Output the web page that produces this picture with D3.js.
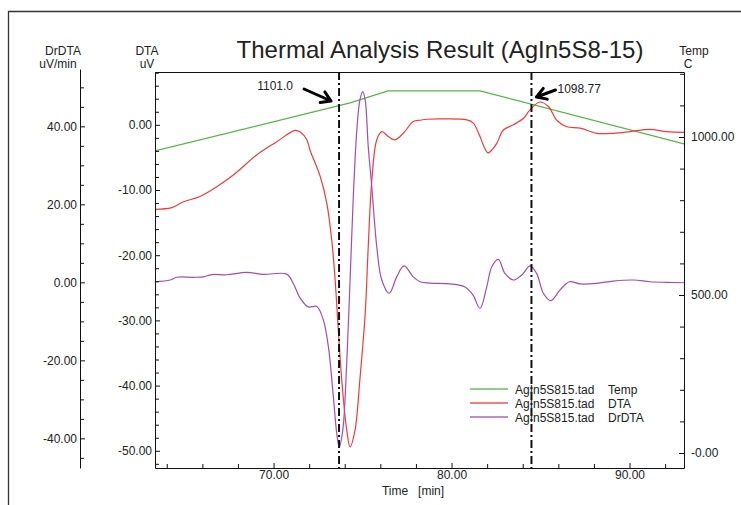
<!DOCTYPE html>
<html>
<head>
<meta charset="utf-8">
<title>Thermal Analysis Result</title>
<script src="https://cdn.jsdelivr.net/npm/d3@7"></script>
<style>
  body { margin: 0; background: #fff; }
  svg text { font-family: "Liberation Sans", Arial, sans-serif; fill: #222; }
</style>
</head>
<body>
<div id="chart"></div>
<script>
// ---- data ----

// time axis [min]
const timeTicks = [70, 80, 90];
const timeTickLabels = ["70.00", "80.00", "90.00"];

// DTA axis [uV]
const dtaTicks = [-50, -40, -30, -20, -10, 0];
const dtaTickLabels = ["-50.00", "-40.00", "-30.00", "-20.00", "-10.00", "0.00"];

// DrDTA axis [uV/min]
const drTicks = [-40, -20, 0, 20, 40];
const drTickLabels = ["-40.00", "-20.00", "0.00", "20.00", "40.00"];

// Temp axis [C]
const tempTicks = [0, 500, 1000];
const tempTickLabels = ["-0.00", "500.00", "1000.00"];

// Temp program (piecewise)
const tempTime  = [63.34, 74.30, 76.43, 81.60, 93.06];
const tempValue = [956, 1108, 1146, 1146, 978];

// DTA signal
const dtaTime = [63.34, 64.28, 64.94, 65.87, 66.81, 67.74, 69.06, 70.18, 71.21, 71.50,
                 71.87, 72.05, 72.62, 72.99, 73.27, 73.46, 73.64, 73.83, 74.11, 74.30,
                 74.58, 74.85, 75.15, 75.32, 75.52, 75.80, 76.08, 76.45, 76.82, 77.29,
                 77.85, 78.23, 78.61, 79.63, 80.86, 81.21, 81.60, 81.83, 82.05, 82.28,
                 82.54, 82.91, 83.47, 84.04, 84.41, 84.97, 85.44, 85.91, 86.47, 87.22,
                 88.15, 89.09, 90.03, 91.15, 92.09, 93.06];
const dtaValue = [-12.96, -12.7, -11.8, -11.0, -9.5, -7.7, -4.6, -2.6, -0.85, -1.1,
                  -2.3, -3.9, -7.9, -12.0, -17.7, -23.8, -31.5, -39.1, -46.8, -49.4,
                  -46.8, -39.1, -28.9, -18.7, -8.5, -2.3, -1.05, -1.8, -2.3, -1.3,
                  0.5, 0.7, 0.85, 0.9, 0.75, 0.3, -1.8, -3.4, -4.3, -3.8,
                  -2.85, -0.8, 0.0, 1.0, 2.3, 3.5, 2.8, 0.7, -0.3, -0.5,
                  -1.3, -1.3, -1.05, -0.7, -1.05, -1.15];

// DrDTA (derivative) signal
const drTime = [63.34, 64.19, 64.56, 65.50, 66.05, 66.53, 67.37, 68.49, 69.42, 70.74,
                71.11, 71.49, 71.95, 72.43, 72.80, 73.08, 73.36, 73.55, 73.69, 73.89,
                74.11, 74.30, 74.48, 74.68, 74.85, 75.01, 75.15, 75.32, 75.52, 75.80,
                76.08, 76.50, 76.92, 77.33, 77.85, 78.23, 78.79, 79.91, 80.76, 81.21,
                81.60, 81.98, 82.26, 82.63, 83.00, 83.47, 83.95, 84.41, 84.78, 85.16,
                85.57, 86.09, 86.62, 87.22, 88.15, 89.09, 90.22, 91.15, 92.09, 93.06];
const drValue = [0.15, 0.6, 1.3, 1.3, 1.4, 2.0, 1.95, 2.55, 2.05, 2.1,
                 -0.3, -4.0, -6.3, -6.2, -9.7, -16.5, -29.3, -38.7, -42.2, -37.9,
                 -20.8, 0.6, 21.9, 39.1, 46.7, 48.9, 46.7, 34.8, 24.5, 9.1,
                 0.6, -2.8, 1.4, 4.2, 1.4, 0.15, -0.2, -0.4, -1.2, -3.3,
                 -6.7, -1.1, 4.0, 5.9, 2.3, 0.6, 1.9, 4.2, 2.3, -2.8,
                 -4.7, -2.0, 0.15, -0.4, -0.26, 0.33, 0.6, 0.15, 0.0, -0.1];

// marker lines and their temperature readouts
const markerTimes = [73.68, 84.49];
const markerLabels = ["1101.0", "1098.77"];

// legend
const legendFile = "AgIn5S815.tad";
const legendNames = ["Temp", "DTA", "DrDTA"];

document.addEventListener("DOMContentLoaded", function () {

    function createChart() {
        const width = 741;
        const height = 505;
        const plot = { left: 155, right: 684, top: 72, bottom: 468 };
        const colors = { Temp: "#55b449", DTA: "#f03a3a", DrDTA: "#a24dae" };

        const svg = d3.select("#chart")
            .append("svg")
            .attr("width", width)
            .attr("height", height);

        // page frame (left and top edges only visible)
        svg.append("path")
            .attr("d", "M8.5," + height + "V11.5H" + width)
            .attr("fill", "none")
            .attr("stroke", "#333")
            .attr("stroke-width", 1.3);

        // scales
        const x = d3.scaleLinear().domain([63.34, 93.06]).range([plot.left, plot.right]);
        const yDta = d3.scaleLinear().domain([-52.64, 8.1]).range([plot.bottom, plot.top]);
        const yDr = d3.scaleLinear().domain([-47.6, 54.7]).range([plot.bottom, 69]);
        const yTemp = d3.scaleLinear().domain([-47.5, 1205.7]).range([plot.bottom, plot.top]);

        // clip for the curves
        svg.append("clipPath").attr("id", "clip")
            .append("rect")
            .attr("x", plot.left).attr("y", plot.top)
            .attr("width", plot.right - plot.left)
            .attr("height", plot.bottom - plot.top);

        const curves = svg.append("g").attr("clip-path", "url(#clip)");

        const tempLine = d3.line()
            .x(d => x(d[0])).y(d => yTemp(d[1]));
        const dtaLine = d3.line()
            .x(d => x(d[0])).y(d => yDta(d[1]))
            .curve(d3.curveCatmullRom.alpha(0.5));
        const drLine = d3.line()
            .x(d => x(d[0])).y(d => yDr(d[1]))
            .curve(d3.curveCatmullRom.alpha(0.5));

        curves.append("path")
            .attr("d", tempLine(d3.zip(tempTime, tempValue)))
            .attr("fill", "none").attr("stroke", colors.Temp).attr("stroke-width", 1.2);
        curves.append("path")
            .attr("d", dtaLine(d3.zip(dtaTime, dtaValue)))
            .attr("fill", "none").attr("stroke", colors.DTA).attr("stroke-width", 1.2);
        curves.append("path")
            .attr("d", drLine(d3.zip(drTime, drValue)))
            .attr("fill", "none").attr("stroke", colors.DrDTA).attr("stroke-width", 1.2);

        // dash-dot marker lines
        svg.selectAll(".marker")
            .data(markerTimes)
            .enter().append("line")
            .attr("class", "marker")
            .attr("x1", d => x(d)).attr("x2", d => x(d))
            .attr("y1", plot.top).attr("y2", plot.bottom)
            .attr("stroke", "#111")
            .attr("stroke-width", 2)
            .attr("stroke-dasharray", "8,3,2,3");

        // axes
        function styleAxis(g) {
            g.attr("font-size", 12);
            g.select(".domain").attr("stroke", "#111");
            g.selectAll(".tick line").attr("stroke", "#111");
            g.selectAll(".tick text").attr("fill", "#222");
        }
        function minorTicks(axisFn, values, transform) {
            svg.append("g")
                .attr("transform", transform)
                .call(axisFn.tickValues(values).tickSize(-4).tickFormat(() => ""))
                .call(g => g.select(".domain").remove())
                .call(g => g.selectAll(".tick line").attr("stroke", "#111"));
        }

        // DrDTA axis (outer left)
        svg.append("g")
            .attr("transform", "translate(80,0)")
            .call(d3.axisLeft(yDr).tickValues(drTicks)
                .tickFormat((d, i) => drTickLabels[i])
                .tickSizeInner(-5).tickSizeOuter(0).tickPadding(3))
            .call(styleAxis);
        minorTicks(d3.axisLeft(yDr), d3.range(-45, 55, 5).filter(v => v % 20 !== 0), "translate(80,0)");

        // DTA axis (inner left)
        svg.append("g")
            .attr("transform", "translate(" + plot.left + ",0)")
            .call(d3.axisLeft(yDta).tickValues(dtaTicks)
                .tickFormat((d, i) => dtaTickLabels[i])
                .tickSizeInner(-5).tickSizeOuter(0).tickPadding(3))
            .call(styleAxis);
        minorTicks(d3.axisLeft(yDta), d3.range(-52, 9, 2).filter(v => v % 10 !== 0), "translate(" + plot.left + ",0)");

        // Temp axis (right)
        svg.append("g")
            .attr("transform", "translate(" + plot.right + ",0)")
            .call(d3.axisRight(yTemp).tickValues(tempTicks)
                .tickFormat((d, i) => tempTickLabels[i])
                .tickSizeInner(-5).tickSizeOuter(0).tickPadding(7))
            .call(styleAxis);
        minorTicks(d3.axisRight(yTemp), d3.range(100, 1201, 100).filter(v => v % 500 !== 0), "translate(" + plot.right + ",0)");

        // Time axis (bottom)
        svg.append("g")
            .attr("transform", "translate(0," + plot.bottom + ")")
            .call(d3.axisBottom(x).tickValues(timeTicks)
                .tickFormat((d, i) => timeTickLabels[i])
                .tickSizeInner(-5).tickSizeOuter(0).tickPadding(2))
            .call(styleAxis);
        minorTicks(d3.axisBottom(x), d3.range(64, 93, 2).filter(v => v % 10 !== 0), "translate(0," + plot.bottom + ")");

        // top edge of the plot box
        svg.append("line")
            .attr("x1", plot.left).attr("x2", plot.right + 0.5)
            .attr("y1", plot.top + 0.5).attr("y2", plot.top + 0.5)
            .attr("stroke", "#111");

        // title and axis captions
        svg.append("text")
            .attr("x", 440).attr("y", 58)
            .attr("text-anchor", "middle")
            .attr("font-size", 24)
            .attr("fill", "#111")
            .text("Thermal Analysis Result (AgIn5S8-15)");

        const captions = [
            { x: 63, y: 55, t: "DrDTA" }, { x: 58, y: 68, t: "uV/min" },
            { x: 147, y: 55, t: "DTA" }, { x: 147, y: 68, t: "uV" },
            { x: 694, y: 55, t: "Temp" }, { x: 688, y: 68, t: "C" }
        ];
        svg.selectAll(".caption")
            .data(captions)
            .enter().append("text")
            .attr("class", "caption")
            .attr("x", d => d.x).attr("y", d => d.y)
            .attr("text-anchor", "middle")
            .attr("font-size", 12)
            .text(d => d.t);

        svg.append("text")
            .attr("x", 413).attr("y", 495)
            .attr("text-anchor", "middle")
            .attr("font-size", 12)
            .style("white-space", "pre")
            .text("Time   [min]");

        // legend
        const legend = svg.append("g").attr("transform", "translate(470,389)");
        legendNames.forEach((name, i) => {
            const row = legend.append("g").attr("transform", "translate(0," + (i * 14) + ")");
            row.append("line")
                .attr("x1", 0).attr("x2", 38)
                .attr("stroke", colors[name]).attr("stroke-opacity", 0.65)
                .attr("stroke-width", 2.2);
            row.append("text").attr("x", 45).attr("y", 4.5)
                .attr("font-size", 12).text(legendFile);
            row.append("text").attr("x", 138).attr("y", 4.5)
                .attr("font-size", 12).text(name);
        });

        // temperature readouts with arrows pointing at the marker lines
        function arrow(tipX, tipY, fromX, fromY) {
            const a = Math.atan2(fromY - tipY, fromX - tipX);
            const len = 11, spread = 0.55;
            const h1 = [tipX + len * Math.cos(a + spread), tipY + len * Math.sin(a + spread)];
            const h2 = [tipX + len * Math.cos(a - spread), tipY + len * Math.sin(a - spread)];
            svg.append("path")
                .attr("d", "M" + fromX + "," + fromY + "L" + tipX + "," + tipY +
                    "M" + h1[0] + "," + h1[1] + "L" + tipX + "," + tipY + "L" + h2[0] + "," + h2[1])
                .attr("fill", "none")
                .attr("stroke", "#000")
                .attr("stroke-width", 3)
                .attr("stroke-linecap", "round")
                .attr("stroke-linejoin", "round");
        }

        const m1 = x(markerTimes[0]);
        arrow(m1 - 8, 101, m1 - 35, 89);
        svg.append("text").attr("x", m1 - 46).attr("y", 89.5)
            .attr("text-anchor", "end").attr("font-size", 12).text(markerLabels[0]);

        const m2 = x(markerTimes[1]);
        arrow(m2 + 5, 97, m2 + 24, 90);
        svg.append("text").attr("x", m2 + 26).attr("y", 92.5)
            .attr("font-size", 12).text(markerLabels[1]);
    }

    createChart();
});
</script>
</body>
</html>
